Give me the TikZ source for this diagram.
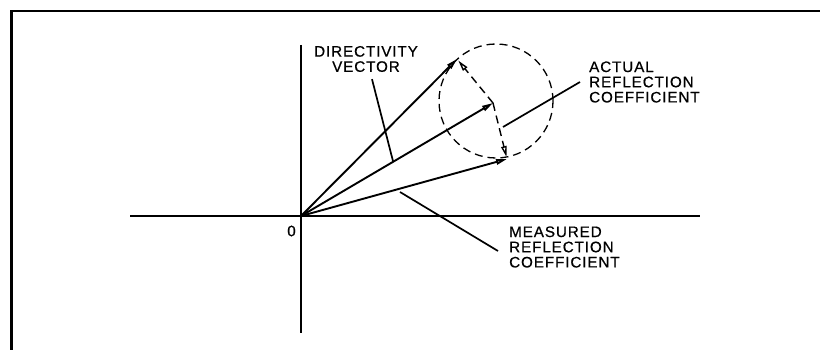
\documentclass[tikz,border=0pt]{standalone}
\usepackage{fontspec}
\setmainfont{Liberation Sans}[LetterSpace=6, FakeBold=0.6]
\usepackage{tikz}
\usetikzlibrary{arrows.meta,calc}

\begin{document}
\begin{tikzpicture}[x=1pt, y=-1pt,
  lbl/.style={font=\fontsize{15.2}{15.2}\selectfont, align=left, inner sep=0pt},
  vec/.style={line width=1.9pt, -{Triangle[open, length=11pt, width=5.5pt]}},
  errvec/.style={line width=1.4pt, dash pattern=on 8pt off 5pt,
                 -{Triangle[open, length=11pt, width=5.5pt]}, shorten >=2pt},
  leader/.style={line width=1.7pt},
  axis/.style={line width=1.5pt}
]
  \useasboundingbox (0,0) rectangle (820,350);

  % Frame
  \draw[line width=2.4pt] (11.5,350) -- (11.5,11) -- (820,11);

  % Axes
  \coordinate (O) at (301,216);
  \coordinate (xl) at (130,216);
  \coordinate (xr) at (700,216);
  \coordinate (yt) at (301,45);
  \coordinate (yb) at (301,333);
  \draw[axis] (xl) -- (xr);
  \draw[axis] (yt) -- (yb);
  \node[lbl] (zero) at (291.5,231) {0};

  % Vectors
  \coordinate (dtip) at (457,59);
  \coordinate (atip) at (493,103);
  \coordinate (mtip) at (507,159);
  \draw[vec] (O) -- (dtip);
  \draw[vec] (O) -- (atip);
  \draw[vec] (O) -- (mtip);

  % Uncertainty circle
  \draw[line width=1.3pt, dash pattern=on 8pt off 5pt] (496,101) circle (57pt);
  \draw[errvec] (atip) -- (dtip);
  \draw[errvec] (atip) -- (mtip);

  % Labels
  \node[lbl, align=center] (dirlbl) at (366,59) {DIRECTIVITY\\VECTOR};
  \node[lbl, anchor=west] (actlbl) at (589,82) {ACTUAL\\REFLECTION\\COEFFICIENT};
  \node[lbl, anchor=west] (measlbl) at (509,247) {MEASURED\\REFLECTION\\COEFFICIENT};

  % Leaders
  \coordinate (dlead) at ($(O)!0.48!(atip)$);
  \coordinate (alead) at (503,127);
  \coordinate (mlead) at (400,192);
  \draw[leader] ([xshift=6pt, yshift=-7pt]dirlbl.south) -- (dlead);
  \draw[leader] (alead) -- ([xshift=-9pt]actlbl.west);
  \draw[leader] (mlead) -- ([xshift=-11pt, yshift=-4pt]measlbl.west);
\end{tikzpicture}
\end{document}
